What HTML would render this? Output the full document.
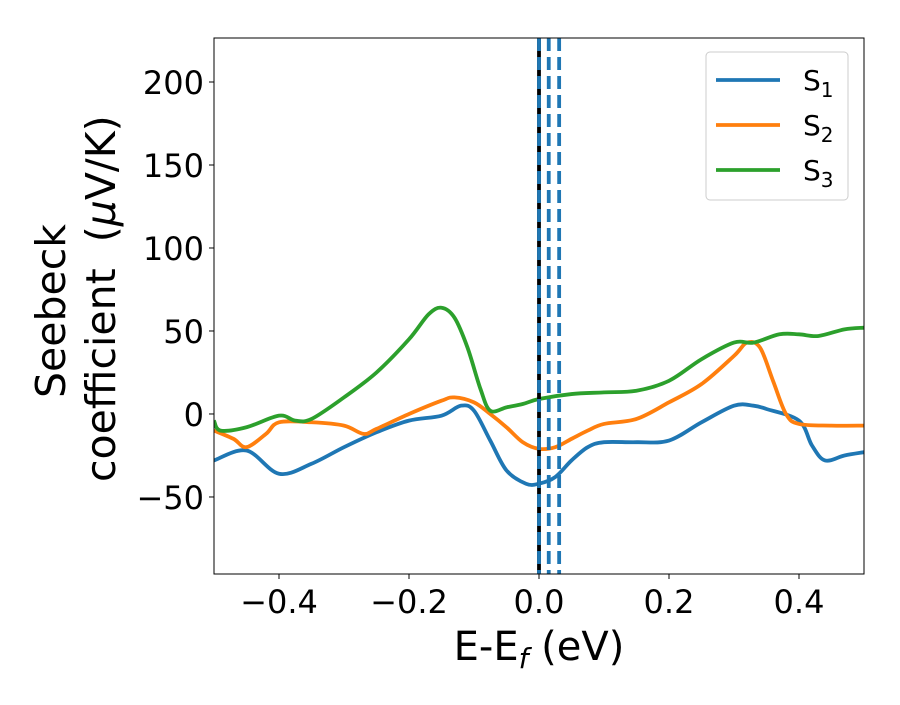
<!DOCTYPE html>
<html><head><meta charset="utf-8"><style>
body{margin:0;background:#fff;}
text{font-family:"DejaVu Sans","Liberation Sans",sans-serif;}
</style></head><body>
<svg id="chart" width="900" height="700" viewBox="0 0 900 700">
<g id="plot"></g>
</svg>
<script>
const xS1=[-0.5,-0.45,-0.4,-0.35,-0.3,-0.25,-0.2,-0.15,-0.12,-0.1,-0.075,-0.05,-0.02,0,0.025,0.05,0.075,0.1,0.15,0.2,0.25,0.3,0.33,0.35,0.4,0.42,0.44,0.47,0.5];
const yS1=[-28,-22,-36,-30,-20,-11,-4,-1,5,2,-16,-34,-42,-42,-38,-28,-20,-17,-17,-16,-5,5,5,3,-4,-19,-28,-25,-23];
const xS2=[-0.5,-0.47,-0.45,-0.42,-0.4,-0.35,-0.3,-0.27,-0.25,-0.2,-0.15,-0.13,-0.1,-0.075,-0.05,-0.025,0,0.025,0.05,0.075,0.1,0.15,0.2,0.25,0.3,0.32,0.34,0.36,0.38,0.4,0.45,0.5];
const yS2=[-10,-15,-20,-12,-5,-5,-7,-12,-9,0,8,10,7,0,-8,-17,-21,-20,-15,-10,-6,-3,7,18,35,43,40,20,0,-6,-7,-7];
const xS3=[-0.5,-0.49,-0.45,-0.4,-0.375,-0.35,-0.3,-0.25,-0.2,-0.17,-0.15,-0.13,-0.11,-0.09,-0.075,-0.05,-0.025,0,0.05,0.1,0.15,0.2,0.25,0.3,0.33,0.37,0.4,0.43,0.47,0.5];
const yS3=[-4,-10,-8,-1,-4,-3,10,25,45,60,64,58,40,15,2,4,6,9,12,13,14,20,33,43,43,48,48,47,51,52];
const xTicks=[-0.4,-0.2,0.0,0.2,0.4];
const xTickLabels=["\u22120.4","\u22120.2","0.0","0.2","0.4"];
const yTicks=[-50,0,50,100,150,200];
const yTickLabels=["\u221250","0","50","100","150","200"];
const vLines=[0,0.015,0.031];
const legendLabels=["1","2","3"];

const L=214,R=864,T=38,B=574, X0=-0.5,X1=0.5,Y0=-96.4,Y1=226.5;
const sx=v=>L+(v-X0)/(X1-X0)*(R-L);
const sy=v=>B-(v-Y0)/(Y1-Y0)*(B-T);
const NS="http://www.w3.org/2000/svg";
const g=document.getElementById('plot');
function mk(tag,attrs,parent){const e=document.createElementNS(NS,tag);for(const k in attrs)e.setAttribute(k,attrs[k]);(parent||g).appendChild(e);return e;}
const clip=mk('clipPath',{id:'cp'});mk('rect',{x:L,y:T,width:R-L,height:B-T},clip);
function path(xs,ys){const p=xs.map((x,i)=>[sx(x),sy(ys[i])]);let d=`M${p[0][0]},${p[0][1]}`;
for(let i=0;i<p.length-1;i++){const a=p[i-1]||p[i],b=p[i],c=p[i+1],e=p[i+2]||c;
d+=` C${b[0]+(c[0]-a[0])/6},${b[1]+(c[1]-a[1])/6} ${c[0]-(e[0]-b[0])/6},${c[1]-(e[1]-b[1])/6} ${c[0]},${c[1]}`;}return d;}
const series=[[xS1,yS1,'#1f77b4','series-s1'],[xS2,yS2,'#ff7f0e','series-s2'],[xS3,yS3,'#2ca02c','series-s3']];
series.forEach(s=>{const e=mk('path',{d:path(s[0],s[1]),fill:'none',stroke:s[2],'stroke-width':3.8,'clip-path':'url(#cp)'});

});
const bl=mk('line',{x1:sx(0),x2:sx(0),y1:T,y2:B,stroke:'#000','stroke-width':3.8});


vLines.forEach((v,i)=>{const e=mk('line',{x1:sx(v),x2:sx(v),y1:T,y2:B,stroke:'#1f77b4','stroke-width':3.8,'stroke-dasharray':'13,6'});

});
const fr=mk('rect',{x:L,y:T,width:R-L,height:B-T,fill:'none',stroke:'#000','stroke-width':1});


xTicks.forEach((v,i)=>{mk('line',{x1:sx(v),x2:sx(v),y1:B,y2:B+5,stroke:'#000'});
const t=mk('text',{x:sx(v),y:B+39,'font-size':32,'text-anchor':'middle'});t.textContent=xTickLabels[i];

});
yTicks.forEach((v,i)=>{mk('line',{x1:L-5,x2:L,y1:sy(v),y2:sy(v),stroke:'#000'});
const t=mk('text',{x:L-10,y:sy(v)+12,'font-size':32,'text-anchor':'end'});t.textContent=yTickLabels[i];

});
const xt=mk('text',{x:539,y:660,'font-size':40,'text-anchor':'middle'});
xt.innerHTML='E-E<tspan font-size="28" dy="8" font-style="italic">f</tspan><tspan dy="-8"> (eV)</tspan>';


const yt=mk('g',{});


const y1=mk('text',{x:0,y:0,'font-size':41,'text-anchor':'middle',transform:'translate(65,311) rotate(-90)'},yt);y1.textContent='Seebeck';
const y2=mk('text',{x:0,y:0,'font-size':41,'text-anchor':'start',transform:'translate(115,482) rotate(-90)'},yt);
y2.innerHTML='coefficient\u00a0\u00a0(<tspan font-style="italic">\u03bc</tspan>V/K)';
const lg=mk('g',{});


mk('rect',{x:706,y:52,width:142,height:148,rx:4,fill:'#fff',stroke:'#ccc','stroke-width':1},lg);
series.forEach((s,i)=>{const yy=80+i*45;
mk('line',{x1:716,x2:780,y1:yy,y2:yy,stroke:s[2],'stroke-width':3.8},lg);
const t=mk('text',{x:803,y:yy+10,'font-size':28},lg);
t.innerHTML='S<tspan font-size="20" dy="7">'+legendLabels[i]+'</tspan>';

});
</script>
</body></html>
